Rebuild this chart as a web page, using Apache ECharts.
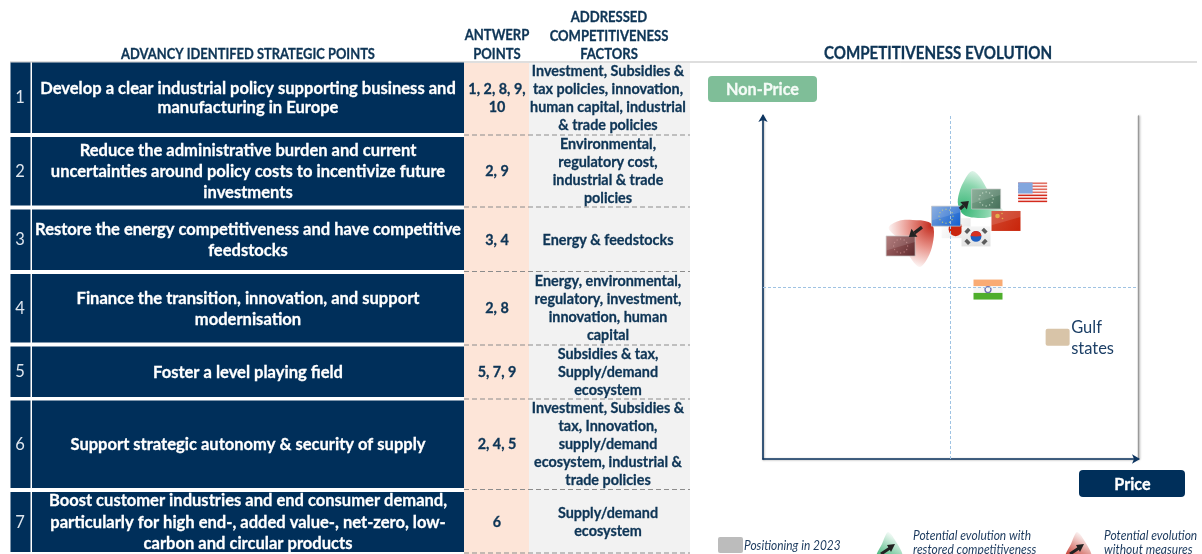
<!DOCTYPE html>
<html><head><meta charset="utf-8">
<style>html,body{margin:0;padding:0;background:#fff}#c{width:1202px;height:554px}</style>
<script src="https://cdn.jsdelivr.net/npm/echarts@6/dist/echarts.min.js"></script>
</head><body><div id="c"></div>
<script>
// ---------- data ----------
const rowNumbers = ['1','2','3','4','5','6','7'];
const strategicPoints = [
 'Develop a clear industrial policy supporting business and\nmanufacturing in Europe',
 'Reduce the administrative burden and current\nuncertainties around policy costs to incentivize future\ninvestments',
 'Restore the energy competitiveness and have competitive\nfeedstocks',
 'Finance the transition, innovation, and support\nmodernisation',
 'Foster a level playing field',
 'Support strategic autonomy & security of supply',
 'Boost customer industries and end consumer demand,\nparticularly for high end-, added value-, net-zero, low-\ncarbon and circular products'
];
const antwerpPoints = ['1, 2, 8, 9,\n10','2, 9','3, 4','2, 8','5, 7, 9','2, 4, 5','6'];
const competitivenessFactors = [
 'Investment, Subsidies &\ntax policies, innovation,\nhuman capital, industrial\n& trade policies',
 'Environmental,\nregulatory cost,\nindustrial & trade\npolicies',
 'Energy & feedstocks',
 'Energy, environmental,\nregulatory, investment,\ninnovation, human\ncapital',
 'Subsidies & tax,\nSupply/demand\necosystem',
 'Investment, Subsidies &\ntax, Innovation,\nsupply/demand\necosystem, industrial &\ntrade policies',
 'Supply/demand\necosystem'
];
const headerStrategic = 'ADVANCY IDENTIFED STRATEGIC POINTS';
const headerAntwerp = 'ANTWERP\nPOINTS';
const headerFactors = 'ADDRESSED\nCOMPETITIVENESS\nFACTORS';
const chartTitle = 'COMPETITIVENESS EVOLUTION';
const yAxisName = 'Non-Price';
const xAxisName = 'Price';

const flagNames   = ['Japan','South Korea','EU','China','USA','India','Gulf states','EU restored','EU no measures'];
const priceValues = [51.5, 56.8, 48.8, 64.8, 71.9, 60.0, 78.7, 59.5, 36.7];
const nonPriceValues = [67.3, 64.9, 70.8, 69.4, 77.7, 49.4, 35.5, 75.8, 62.1];
const arrowNames = ['restored','no measures'];
const arrowFromX = [52.5, 42.4];
const arrowFromY = [72.9, 67.6];
const arrowToX   = [54.9, 38.9];
const arrowToY   = [75.2, 64.7];
const midPoint = 50;
const legendLabels = ['Positioning in 2023','Potential evolution with\nrestored competitiveness','Potential evolution\nwithout measures'];

// ---------- layout & style ----------
const rowTop    = [62.5,137,209.5,274,346.5,400.5,492];
const rowBottom = [133,205.5,270,342.5,397,488,552];
const dashY     = [135,207,271.5,345,399,489.5,553];
const mainLH    = [19,21,21,21,21,21,21.5];
const NAVY='#002f5a', INK='#0e3556';
const FONT='Lato, sans-serif';

function txt(x,y,text,size,color,opts){
  opts=opts||{};
  const w=opts.weight||'bold';
  const st={text:text,x:0,y:0,align:opts.align||'center',verticalAlign:'middle',
      font:(opts.italic?'italic ':'')+w+' '+size+'px '+FONT,
      lineHeight:opts.lh||18,fill:color};
  if(w==='bold'){st.stroke=color;st.lineWidth=.3;}
  return {type:'text',x:x,y:y,scaleX:opts.sx||.945,z:opts.z||10,silent:true,style:st};
}
const rect=(x,y,w,h,fill,r,z)=>({type:'rect',z:z||5,silent:true,shape:{x:x,y:y,width:w,height:h,r:r||0},style:{fill:fill}});

const g=[];
g.push({type:'line',z:1,silent:true,shape:{x1:10,y1:62,x2:1197,y2:62},style:{stroke:'#bdbdbd',lineWidth:1}});
g.push(rect(464,63,65,491,'#fde5d8',0,2));
g.push(rect(529,63,161,491,'#f2f2f2',0,2));
rowNumbers.forEach((n,i)=>{
  const t=rowTop[i],h=rowBottom[i]-t,c=t+h/2+.2;
  g.push(rect(10.5,t,20,h,NAVY));
  g.push(rect(32,t,432,h,NAVY));
  g.push(txt(20,c,n,16.5,'#dfe6ee',{weight:'normal',sx:1}));
  g.push(txt(248,c,strategicPoints[i],17.5,'#fff',{lh:mainLH[i]}));
  g.push(txt(497,c,antwerpPoints[i],15,INK,{lh:18,sx:.958}));
  g.push(txt(608,c,competitivenessFactors[i],15,INK,{lh:18,sx:.958}));
  g.push({type:'line',z:6,silent:true,shape:{x1:464,y1:dashY[i],x2:690,y2:dashY[i]},
    style:{stroke:'#8c8c8c',lineWidth:1.2,lineDash:[5,3]}});
});
g.push(txt(248,54.5,headerStrategic,14.5,INK,{sx:.89}));
g.push(txt(497,45,headerAntwerp,14.5,INK,{lh:19,sx:.9}));
g.push(txt(609,36,headerFactors,14.5,INK,{lh:18.5,sx:.9}));
g.push(txt(938,53.5,chartTitle,16.5,INK,{sx:.915}));
g.push(rect(708,76,109,26,'#7fbe98',4));
g.push(txt(762.5,89.5,yAxisName,17,'#f4fbf6',{sx:.95}));
g.push(rect(1079,470,106,27,NAVY,4));
g.push(txt(1132.5,484.5,xAxisName,17,'#fff',{sx:.95}));

// legend
const ch='#1c3a5e';
g.push(rect(718,537,25,16,'#bcbcbc',2));
g.push(txt(744,545.5,legendLabels[0],12.5,ch,{align:'left',weight:'normal',italic:true,sx:.955}));
g.push(txt(913,543,legendLabels[1],12.5,ch,{align:'left',weight:'normal',italic:true,lh:14.5,sx:.96}));
g.push(txt(1104,543,legendLabels[2],12.5,ch,{align:'left',weight:'normal',italic:true,lh:14.5,sx:.96}));
function legendBlob(cx,colA,colB){
  return {type:'polygon',z:5,silent:true,shape:{points:[[cx,532],[cx+7,540],[cx+14,556],[cx-11,556],[cx-6,544]],smooth:.3},
    style:{fill:new echarts.graphic.LinearGradient(0,1,.6,0,[{offset:0,color:colA},{offset:1,color:colB}])}};
}
function legendArrow(cx){
  return [{type:'line',z:6,silent:true,shape:{x1:cx-7,y1:554,x2:cx+2,y2:548},style:{stroke:'#222',lineWidth:3}},
   {type:'polygon',z:6,silent:true,shape:{points:[[cx+7,544],[cx-1,545],[cx+3,552]]},style:{fill:'#222'}}];
}
g.push(legendBlob(888,'#2fae6c','rgba(255,255,255,0.9)'),...legendArrow(888));
g.push(legendBlob(1077,'#c0281c','rgba(255,255,255,0.9)'),...legendArrow(1077));

// ---------- flags ----------
const W=29,H=20;
function gloss(x,y){return {type:'polygon',shape:{points:[[x,y],[x+W,y],[x+W,y+H*.3],[x,y+H*.72]]},style:{fill:'rgba(255,255,255,0.13)'}};}
function frame(x,y){return {type:'rect',shape:{x:x,y:y,width:W,height:H},style:{fill:'none',stroke:'rgba(200,200,200,0.7)',lineWidth:1}};}
function euFlag(x,y,top,bottom,star){
  const c=[{type:'rect',shape:{x:x,y:y,width:W,height:H},style:{fill:new echarts.graphic.LinearGradient(0,0,1,1,[{offset:0,color:top},{offset:1,color:bottom}])}}];
  for(let k=0;k<12;k++){const a=k*Math.PI/6;
    c.push({type:'circle',shape:{cx:x+W/2+7*Math.cos(a),cy:y+H/2+7*Math.sin(a),r:.7},style:{fill:star}});}
  c.push(gloss(x,y),frame(x,y));return c;
}
const drawers={
 'EU':(x,y)=>euFlag(x,y,'#7ca3da','#0f5fd0','#b8c478'),
 'EU restored':(x,y)=>euFlag(x,y,'#7da58c','#46705a','#b9d0bc'),
 'EU no measures':(x,y)=>euFlag(x,y,'#a86a6a','#5f2b2e','#b57a7a'),
 'USA':(x,y)=>{const c=[{type:'rect',shape:{x:x,y:y,width:W,height:H},style:{fill:'#fbeeee'}}];
   for(let k=0;k<7;k++)c.push({type:'rect',shape:{x:x,y:y+k*H/6.6,width:W,height:1.45},style:{fill:k>3?'#d42a1c':'#e06a5c'}});
   c.push({type:'rect',shape:{x:x,y:y,width:W*.5,height:H*.55},style:{fill:'#82a6de'}});return c;},
 'China':(x,y)=>[{type:'rect',shape:{x:x,y:y,width:W,height:H},style:{fill:new echarts.graphic.LinearGradient(0,0,1,1,[{offset:0,color:'#d0482e'},{offset:1,color:'#c9240a'}])}},
   {type:'circle',shape:{cx:x+6,cy:y+5,r:2.3},style:{fill:'#e0a030'}},
   {type:'circle',shape:{cx:x+10.5,cy:y+2.5,r:.8},style:{fill:'#e0a030'}},
   {type:'circle',shape:{cx:x+11,cy:y+7.5,r:.8},style:{fill:'#e0a030'}},gloss(x,y)],
 'Japan':(x,y)=>[{type:'rect',shape:{x:x,y:y,width:W,height:H},style:{fill:new echarts.graphic.LinearGradient(0,0,1,1,[{offset:0,color:'#ffffff'},{offset:1,color:'#e4e4e4'}])}},
   {type:'circle',shape:{cx:x+W/2-.5,cy:y+H/2+1,r:7},style:{fill:'#c9260f'}}],
 'South Korea':(x,y)=>{const c=[{type:'rect',shape:{x:x,y:y,width:W,height:H},style:{fill:new echarts.graphic.LinearGradient(0,0,0,1,[{offset:0,color:'#f5f5f5'},{offset:1,color:'#e2e2e2'}])}}];
   const cx=x+W/2,cy=y+H/2;
   [[-8.5,-5.5,1],[8.5,-5.5,-1],[-8.5,5.5,-1],[8.5,5.5,1]].forEach(o=>c.push({type:'rect',x:cx+o[0],y:cy+o[1],rotation:o[2]*.8,shape:{x:-2.6,y:-1.8,width:5.2,height:3.6},style:{fill:'#5c5c5c'}}));
   c.push({type:'circle',shape:{cx:cx,cy:cy,r:5.4},style:{fill:'#1e5fc0'}});
   c.push({type:'sector',shape:{cx:cx,cy:cy,r:5.4,startAngle:Math.PI*1.02,endAngle:Math.PI*1.98},style:{fill:'#d83020'}});
   return c;},
 'India':(x,y)=>[{type:'rect',shape:{x:x,y:y,width:W,height:H/3},style:{fill:'#f9ab74'}},
   {type:'rect',shape:{x:x,y:y+H/3,width:W,height:H/3},style:{fill:'#f5f5f5'}},
   {type:'rect',shape:{x:x,y:y+2*H/3,width:W,height:H/3},style:{fill:'#4fae2c'}},
   {type:'circle',shape:{cx:x+W/2,cy:y+H/2,r:3},style:{fill:'none',stroke:'#6d70b0',lineWidth:1.3}}],
 'Gulf states':(x,y)=>[{type:'rect',shape:{x:x+2,y:y+1.5,width:24,height:17,r:2},style:{fill:'#d8c4a8'}},
   {type:'text',x:x+27.5,y:y+11,style:{text:'Gulf\nstates',x:0,y:0,align:'left',verticalAlign:'middle',font:'normal 16.5px '+FONT,lineHeight:21.5,fill:'#1c3f66'}}]
};
function renderFlag(p,api){
  const c=api.coord([api.value(0),api.value(1)]);
  const name=flagNames[api.value(2)];
  return {type:'group',children:drawers[name](c[0]-W/2,c[1]-H/2)};
}
// evolution halos are anchored on the EU flags
function haloGreen(x,y){
  return {type:'polygon',shape:{points:[[x-14,y-28],[x-7,y-23],[x+2,y-8],[x+10,y+5],[x+17,y+12],[x+8,y+17],[x-6,y+19],[x-22,y+16],[x-28,y+6],[x-27,y-6],[x-21,y-20]],smooth:.35},
   style:{fill:new echarts.graphic.RadialGradient(.12,.82,1,[{offset:0,color:'#37b676'},{offset:.55,color:'#8bd6ae'},{offset:1,color:'#ffffff'}])}};
}
function haloRed(x,y){
  return {type:'polygon',shape:{points:[[x-12,y-18],[x-2,y-25],[x+12,y-26],[x+28,y-24],[x+33,y-18],[x+32,y-2],[x+27,y+12],[x+19,y+21],[x+10,y+12],[x-1,y-6]],smooth:.35},
   style:{fill:new echarts.graphic.RadialGradient(.95,.12,1,[{offset:0,color:'#c22a1c'},{offset:.5,color:'#e8938a'},{offset:1,color:'#ffffff'}])}};
}
function renderArrow(p,api){
  const a=api.coord([api.value(0),api.value(1)]), b=api.coord([api.value(2),api.value(3)]);
  const ang=Math.atan2(b[1]-a[1],b[0]-a[0]);
  const L=7,Wd=5;
  const base=[b[0]-L*Math.cos(ang),b[1]-L*Math.sin(ang)];
  const nx=-Math.sin(ang),ny=Math.cos(ang);
  return {type:'group',children:[
   {type:'line',shape:{x1:a[0],y1:a[1],x2:base[0],y2:base[1]},style:{stroke:'#222',lineWidth:3.2}},
   {type:'polygon',shape:{points:[[b[0],b[1]],[base[0]+nx*Wd,base[1]+ny*Wd],[base[0]-nx*Wd,base[1]-ny*Wd]]},style:{fill:'#222'}}
  ]};
}
const idxGreen=flagNames.indexOf('EU restored'), idxRed=flagNames.indexOf('EU no measures');
const axisLine=(extra)=>Object.assign({show:true,onZero:false,symbol:['none','arrow'],symbolSize:[7,8],symbolOffset:[0,2],
   lineStyle:{color:'#0d3560',width:1.6,shadowColor:'rgba(0,0,0,0.35)',shadowBlur:2,shadowOffsetX:.5,shadowOffsetY:.5}},extra||{});
const chart=echarts.init(document.getElementById('c'),null,{renderer:'canvas'});
chart.setOption({
 animation:false,
 textStyle:{fontFamily:FONT},
 grid:{left:763,top:116,width:375,height:343,containLabel:false},
 xAxis:{type:'value',min:0,max:100,axisLine:axisLine(),axisTick:{show:false},axisLabel:{show:false},splitLine:{show:false}},
 yAxis:[{type:'value',min:0,max:100,axisLine:axisLine(),axisTick:{show:false},axisLabel:{show:false},splitLine:{show:false}},
        {type:'value',min:0,max:100,position:'right',axisLine:{show:true,onZero:false,lineStyle:{color:'#9a9a9a',width:1.4,shadowColor:'rgba(0,0,0,0.3)',shadowBlur:2,shadowOffsetX:1}},axisTick:{show:false},axisLabel:{show:false},splitLine:{show:false}}],
 series:[
  {type:'scatter',data:[],silent:true,markLine:{silent:true,symbol:'none',label:{show:false},animation:false,
    lineStyle:{type:[3,2],color:'#9fc3e3',width:1},data:[{xAxis:midPoint},{yAxis:midPoint}]}},
  {type:'custom',clip:false,silent:true,z:3,renderItem:(p,api)=>{
     const c=api.coord([api.value(0),api.value(1)]);
     return api.value(2)===idxGreen?haloGreen(c[0],c[1]):haloRed(c[0],c[1]);},
   data:[idxGreen,idxRed].map(i=>[priceValues[i],nonPriceValues[i],i])},
  {type:'custom',clip:false,silent:true,z:4,renderItem:renderFlag,
   data:flagNames.map((n,i)=>[priceValues[i],nonPriceValues[i],i])},
  {type:'custom',clip:false,silent:true,z:5,renderItem:renderArrow,
   data:arrowNames.map((n,i)=>[arrowFromX[i],arrowFromY[i],arrowToX[i],arrowToY[i]])}
 ],
 graphic:g
});
</script></body></html>
